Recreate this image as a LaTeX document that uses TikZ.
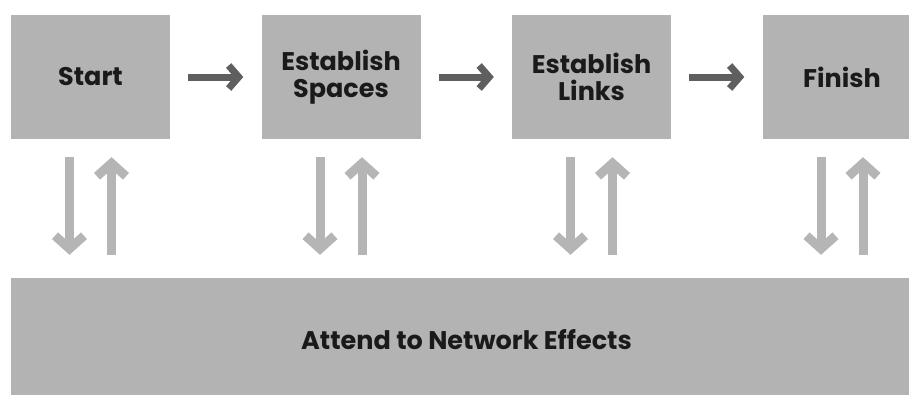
\documentclass[tikz,border=0pt]{standalone}
\usepackage{fontspec}
\setmainfont{Poppins}
\usepackage{tikz}
\usetikzlibrary{arrows.meta}

\definecolor{boxgrey}{HTML}{B3B3B3}
\definecolor{flowgrey}{HTML}{5F5F5F}
\definecolor{loopgrey}{HTML}{B5B5B5}
\definecolor{textblack}{HTML}{1A1A1A}

\begin{document}
\begin{tikzpicture}
	[x=1pt, y=-1pt, node distance={250.5pt},
	stepbox/.style = {fill=boxgrey, minimum width=159pt, minimum height=124pt, inner sep=0pt,
		text=textblack, align=center, font=\fontsize{25.5}{27}\selectfont\bfseries},
	flow/.style = {draw=flowgrey, line width=7pt, shorten <=18pt, shorten >=18pt,
		-{Straight Barb[length=10pt, width=23pt]}},
	loop/.style = {draw=loopgrey, line width=9pt,
		-{Straight Barb[length=13pt, width=29pt]}}]
	\clip (0,0) rectangle (909,394);
	\node[stepbox] (start) at (90.5,77) {Start};
	\node[stepbox] (spaces) [right of = start] {Establish\\Spaces};
	\node[stepbox] (links) [right of = spaces] {Establish\\Links};
	\node[stepbox] (finish) [right of = links] {Finish};
	\node[stepbox, minimum width=911pt] (effects) at (466.5,340) {Attend to Network Effects};
	\draw[flow] (start) -- (spaces);
	\draw[flow] (spaces) -- (links);
	\draw[flow] (links) -- (finish);
	\foreach \n in {start, spaces, links, finish} {
		\draw[loop, shorten <=18pt, shorten >=23pt] ([xshift=-21pt]\n.south) -- ([xshift=-21pt]\n.south |- effects.north);
		\draw[loop, shorten <=23pt, shorten >=18pt] ([xshift=21pt]\n.south |- effects.north) -- ([xshift=21pt]\n.south);
	}
\end{tikzpicture}
\end{document}
